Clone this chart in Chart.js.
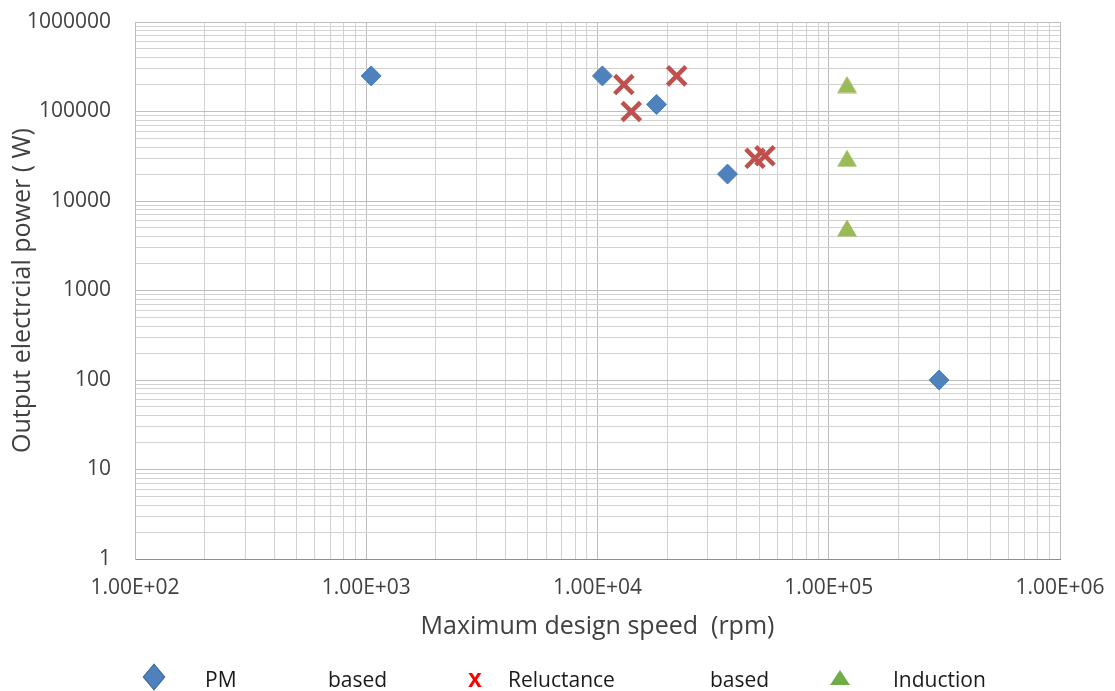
<!DOCTYPE html>
<html><head><meta charset="utf-8">
<script src="https://cdn.jsdelivr.net/npm/chart.js@4/dist/chart.umd.min.js"></script>
<style>
html,body{margin:0;padding:0;background:#fff;}
#wrap{position:relative;width:1115px;height:691px;overflow:hidden;background:#fff;}
#c{position:absolute;left:0;top:0;}
.lg{position:absolute;font-family:'Open Sans',sans-serif;font-size:21px;color:#1a1a1a;top:667px;line-height:24px;white-space:nowrap;}
.mk-diamond{position:absolute;left:146px;top:669px;width:16px;height:16px;background:#4f81bd;border:1.5px solid #41719c;transform:scaleY(1.2) rotate(45deg);box-sizing:border-box;}
.mk-x{position:absolute;left:468px;top:664px;font-family:'Liberation Sans',sans-serif;font-weight:bold;font-size:25px;color:#ff0000;line-height:28px;}
.mk-tri{position:absolute;left:830px;top:670px;width:0;height:0;border-left:10.5px solid transparent;border-right:10.5px solid transparent;border-bottom:15px solid #70ad47;}
</style></head><body>
<div id="wrap">
<canvas id="c" width="1115" height="691"></canvas>
<div class="mk-diamond"></div>
<div class="lg" style="left:205px" id="l0a"></div>
<div class="lg" style="left:328px" id="l0b"></div>
<div class="mk-x" id="lx"></div>
<div class="lg" style="left:508px" id="l1a"></div>
<div class="lg" style="left:710px" id="l1b"></div>
<div class="mk-tri"></div>
<div class="lg" style="left:893px" id="l2a"></div>
</div>
<script>
// ---- data ----
const pmSpeed  = [1050, 10500, 18000, 36500, 300000];
const pmPower  = [250000, 250000, 120000, 20000, 100];
const relSpeed = [13000, 14000, 22000, 48000, 53000];
const relPower = [200000, 100000, 250000, 30000, 32000];
const indSpeed = [120000, 120000, 120000];
const indPower = [200000, 30000, 5000];
const xTickLabels = ['1.00E+02','1.00E+03','1.00E+04','1.00E+05','1.00E+06'];
const yTickLabels = ['1','10','100','1000','10000','100000','1000000'];
const seriesNames = ['PM based', 'Reluctance based', 'Induction'];
const xTitle = 'Maximum design speed  (rpm)';
const yTitle = 'Output electrcial power ( W)';

// legend text
const p0 = seriesNames[0].split(' '), p1 = seriesNames[1].split(' ');
document.getElementById('l0a').textContent = p0[0];
document.getElementById('l0b').textContent = p0[1];
document.getElementById('lx').textContent = 'x';
document.getElementById('l1a').textContent = p1[0];
document.getElementById('l1b').textContent = p1[1];
document.getElementById('l2a').textContent = seriesNames[2];

// bbox-centred triangle marker (Excel style)
const triImg = document.createElement('canvas');
triImg.width = 22; triImg.height = 18;
(function(){
  const g = triImg.getContext('2d');
  g.fillStyle = '#9bbb59';
  g.beginPath(); g.moveTo(1, 17.5); g.lineTo(11, 0.5); g.lineTo(21, 17.5); g.closePath(); g.fill();
})();

const xDecades = xTickLabels.map(Number);
const yDecades = yTickLabels.map(Number);
function logTicks(decades){
  const t = [];
  for (let i = 0; i < decades.length - 1; i++) {
    for (let k = 1; k <= 9; k++) t.push({value: decades[i] * k});
  }
  t.push({value: decades[decades.length - 1]});
  return t;
}
function isDecade(v, decades){ return decades.some(d => Math.abs(v - d) / d < 1e-9); }
function labelFor(v, decades, labels){
  const i = decades.findIndex(d => Math.abs(v - d) / d < 1e-9);
  return i >= 0 ? labels[i] : '';
}
const toPts = (xs, ys) => xs.map((x, i) => ({x, y: ys[i]}));

new Chart(document.getElementById('c'), {
  type: 'scatter',
  data: {
    datasets: [
      {label: seriesNames[0], data: toPts(pmSpeed, pmPower), pointStyle: 'rectRot', pointRadius: 10,
       backgroundColor: '#4f81bd', borderColor: '#4a7ebb', borderWidth: 1},
      {label: seriesNames[1], data: toPts(relSpeed, relPower), pointStyle: 'crossRot', pointRadius: 13,
       backgroundColor: '#c0504d', borderColor: '#c0504d', borderWidth: 4.5},
      {label: seriesNames[2], data: toPts(indSpeed, indPower), pointStyle: triImg, pointRadius: 11,
       backgroundColor: '#9bbb59', borderColor: '#9bbb59', borderWidth: 0}
    ]
  },
  options: {
    responsive: false,
    animation: false,
    events: [],
    layout: {padding: {left: 0, top: 22, right: 55, bottom: 42}},
    plugins: {legend: {display: false}, tooltip: {enabled: false}},
    scales: {
      x: {
        type: 'logarithmic',
        min: xDecades[0], max: xDecades[xDecades.length - 1],
        afterBuildTicks: s => { s.ticks = logTicks(xDecades); },
        afterFit: s => { s.height = 90; s.paddingLeft = 0; s.paddingRight = 0; s.paddingTop = 0; s.paddingBottom = 0; },
        grid: {drawTicks: false,
               color: c => (c.tick && isDecade(c.tick.value, xDecades)) ? '#bdbdbd' : '#d2d2d2',
               lineWidth: 1},
        border: {color: '#8c8c8c', width: 1},
        ticks: {autoSkip: false, maxRotation: 0, padding: 16, color: '#404040',
                font: {family: 'Open Sans', size: 21},
                callback: v => labelFor(v, xDecades, xTickLabels)},
        title: {display: true, text: xTitle, color: '#404040',
                font: {family: 'Open Sans', size: 25}, padding: {top: 4, bottom: 7}}
      },
      y: {
        type: 'logarithmic',
        min: yDecades[0], max: yDecades[yDecades.length - 1],
        afterBuildTicks: s => { s.ticks = logTicks(yDecades); },
        afterFit: s => { s.width = 135; s.paddingLeft = 0; s.paddingRight = 0; s.paddingTop = 0; s.paddingBottom = 0; },
        grid: {drawTicks: false,
               color: c => (c.tick && isDecade(c.tick.value, yDecades)) ? '#bdbdbd' : '#d2d2d2',
               lineWidth: 1},
        border: {color: '#bdbdbd', width: 1},
        ticks: {autoSkip: false, padding: 24, color: '#404040',
                font: {family: 'Open Sans', size: 21},
                callback: v => labelFor(v, yDecades, yTickLabels)},
        title: {display: true, text: yTitle, color: '#404040',
                font: {family: 'Open Sans', size: 25}, padding: {top: 8, bottom: 0}}
      }
    }
  }
});
</script>
</body></html>
